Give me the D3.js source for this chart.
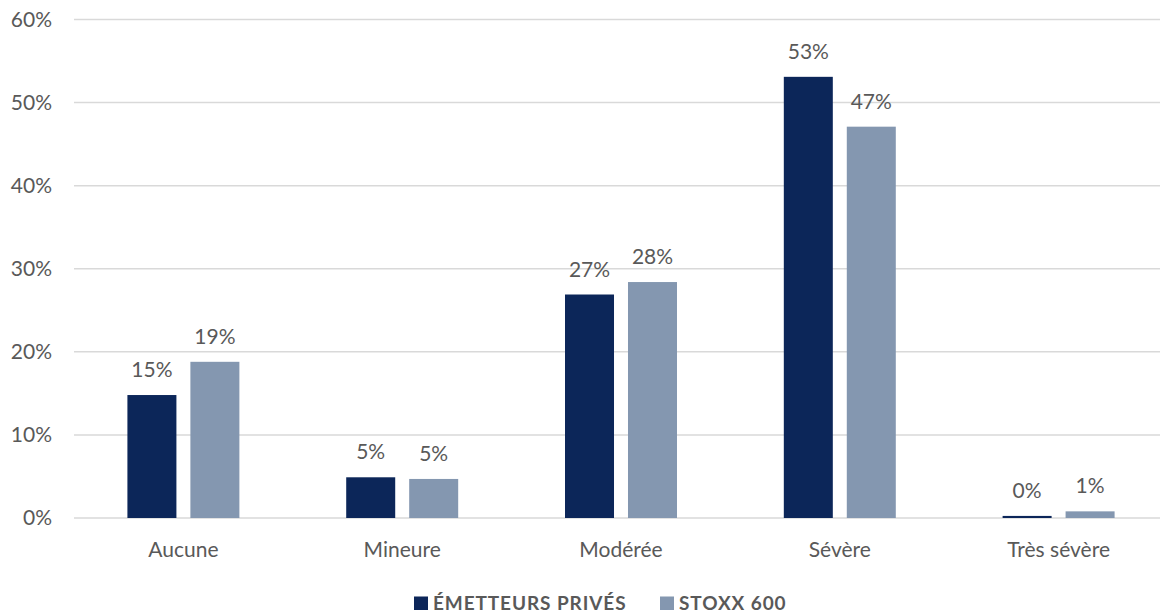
<!DOCTYPE html>
<html>
<head>
<meta charset="utf-8">
<script src="https://cdn.jsdelivr.net/npm/d3@7"></script>
<style>
  html, body { margin: 0; padding: 0; background: #fff; overflow: hidden; }
  svg { display: block; }
</style>
</head>
<body>
<svg id="chart" width="1160" height="615"></svg>
<script>
// Severity categories and the share of each group (in %)
const categories = ["Aucune", "Mineure", "Modérée", "Sévère", "Très sévère"];
const seriesNames = ["ÉMETTEURS PRIVÉS", "STOXX 600"];
const emetteursPrives = [14.8, 4.9, 26.9, 53.1, 0.25];
const stoxx600 = [18.8, 4.7, 28.4, 47.1, 0.8];
const valueLabels = [
  ["15%", "5%", "27%", "53%", "0%"],
  ["19%", "5%", "28%", "47%", "1%"]
];
const yTicks = [0, 10, 20, 30, 40, 50, 60];

const colors = ["#0c2659", "#8497b0"];
const textColor = "#595959";
const font = "Lato, 'Open Sans', sans-serif";

const svg = d3.select("#chart");
const plotLeft = 74, plotRight = 1168, plotTop = 19.5, plotBottom = 518;

const x = d3.scaleBand().domain(categories).range([plotLeft, plotRight]).paddingInner(0).paddingOuter(0);
const inner = d3.scaleBand().domain([0, 1]).range([0, x.bandwidth()]).paddingInner(0.222).paddingOuter(0.848);
const y = d3.scaleLinear().domain([0, 60]).range([plotBottom, plotTop]);

// Horizontal gridlines
svg.append("g").selectAll("line").data(yTicks).join("line")
  .attr("x1", plotLeft).attr("x2", plotRight)
  .attr("y1", d => y(d)).attr("y2", d => y(d))
  .attr("stroke", "#d9d9d9").attr("stroke-width", 1.5);

// Y axis labels
const yAxis = d3.axisLeft(y).tickValues(yTicks).tickFormat(d => d + "%").tickSize(0).tickPadding(0);
const gy = svg.append("g").attr("transform", "translate(52,0)").call(yAxis);
gy.select(".domain").remove();
gy.selectAll("text").attr("fill", textColor).style("font-family", font).style("font-size", "21px");

// Bars with value labels
const data = [emetteursPrives, stoxx600];
data.forEach((vals, s) => {
  svg.append("g").selectAll("rect").data(vals).join("rect")
    .attr("x", (d, i) => x(categories[i]) + inner(s))
    .attr("width", inner.bandwidth())
    .attr("y", d => y(d))
    .attr("height", d => y(0) - y(d))
    .attr("fill", colors[s]);
  svg.append("g").selectAll("text").data(vals).join("text")
    .attr("x", (d, i) => x(categories[i]) + inner(s) + inner.bandwidth() / 2)
    .attr("y", d => y(d) - 18)
    .attr("text-anchor", "middle")
    .attr("fill", textColor)
    .style("font-family", font).style("font-size", "21px")
    .text((d, i) => valueLabels[s][i]);
});

// Category axis
const xAxis = d3.axisBottom(x).tickSize(0).tickPadding(0);
const gx = svg.append("g").attr("transform", "translate(0,557)").call(xAxis);
gx.select(".domain").remove();
gx.selectAll("text").attr("fill", textColor).attr("dy", 0).attr("y", 0)
  .style("font-family", font).style("font-size", "21px");

// Legend
const legend = svg.append("g").attr("transform", "translate(0,610)");
const legendItems = [{ x: 414, name: seriesNames[0], c: colors[0] }, { x: 660, name: seriesNames[1], c: colors[1] }];
legendItems.forEach(it => {
  legend.append("rect").attr("x", it.x).attr("y", -13.5).attr("width", 14).attr("height", 13.5).attr("fill", it.c);
  legend.append("text").attr("x", it.x + 19).attr("y", 0)
    .attr("fill", textColor).style("font-family", font).style("font-size", "19px").style("font-weight", "bold")
    .style("letter-spacing", "0.9px")
    .text(it.name);
});
</script>
</body>
</html>
